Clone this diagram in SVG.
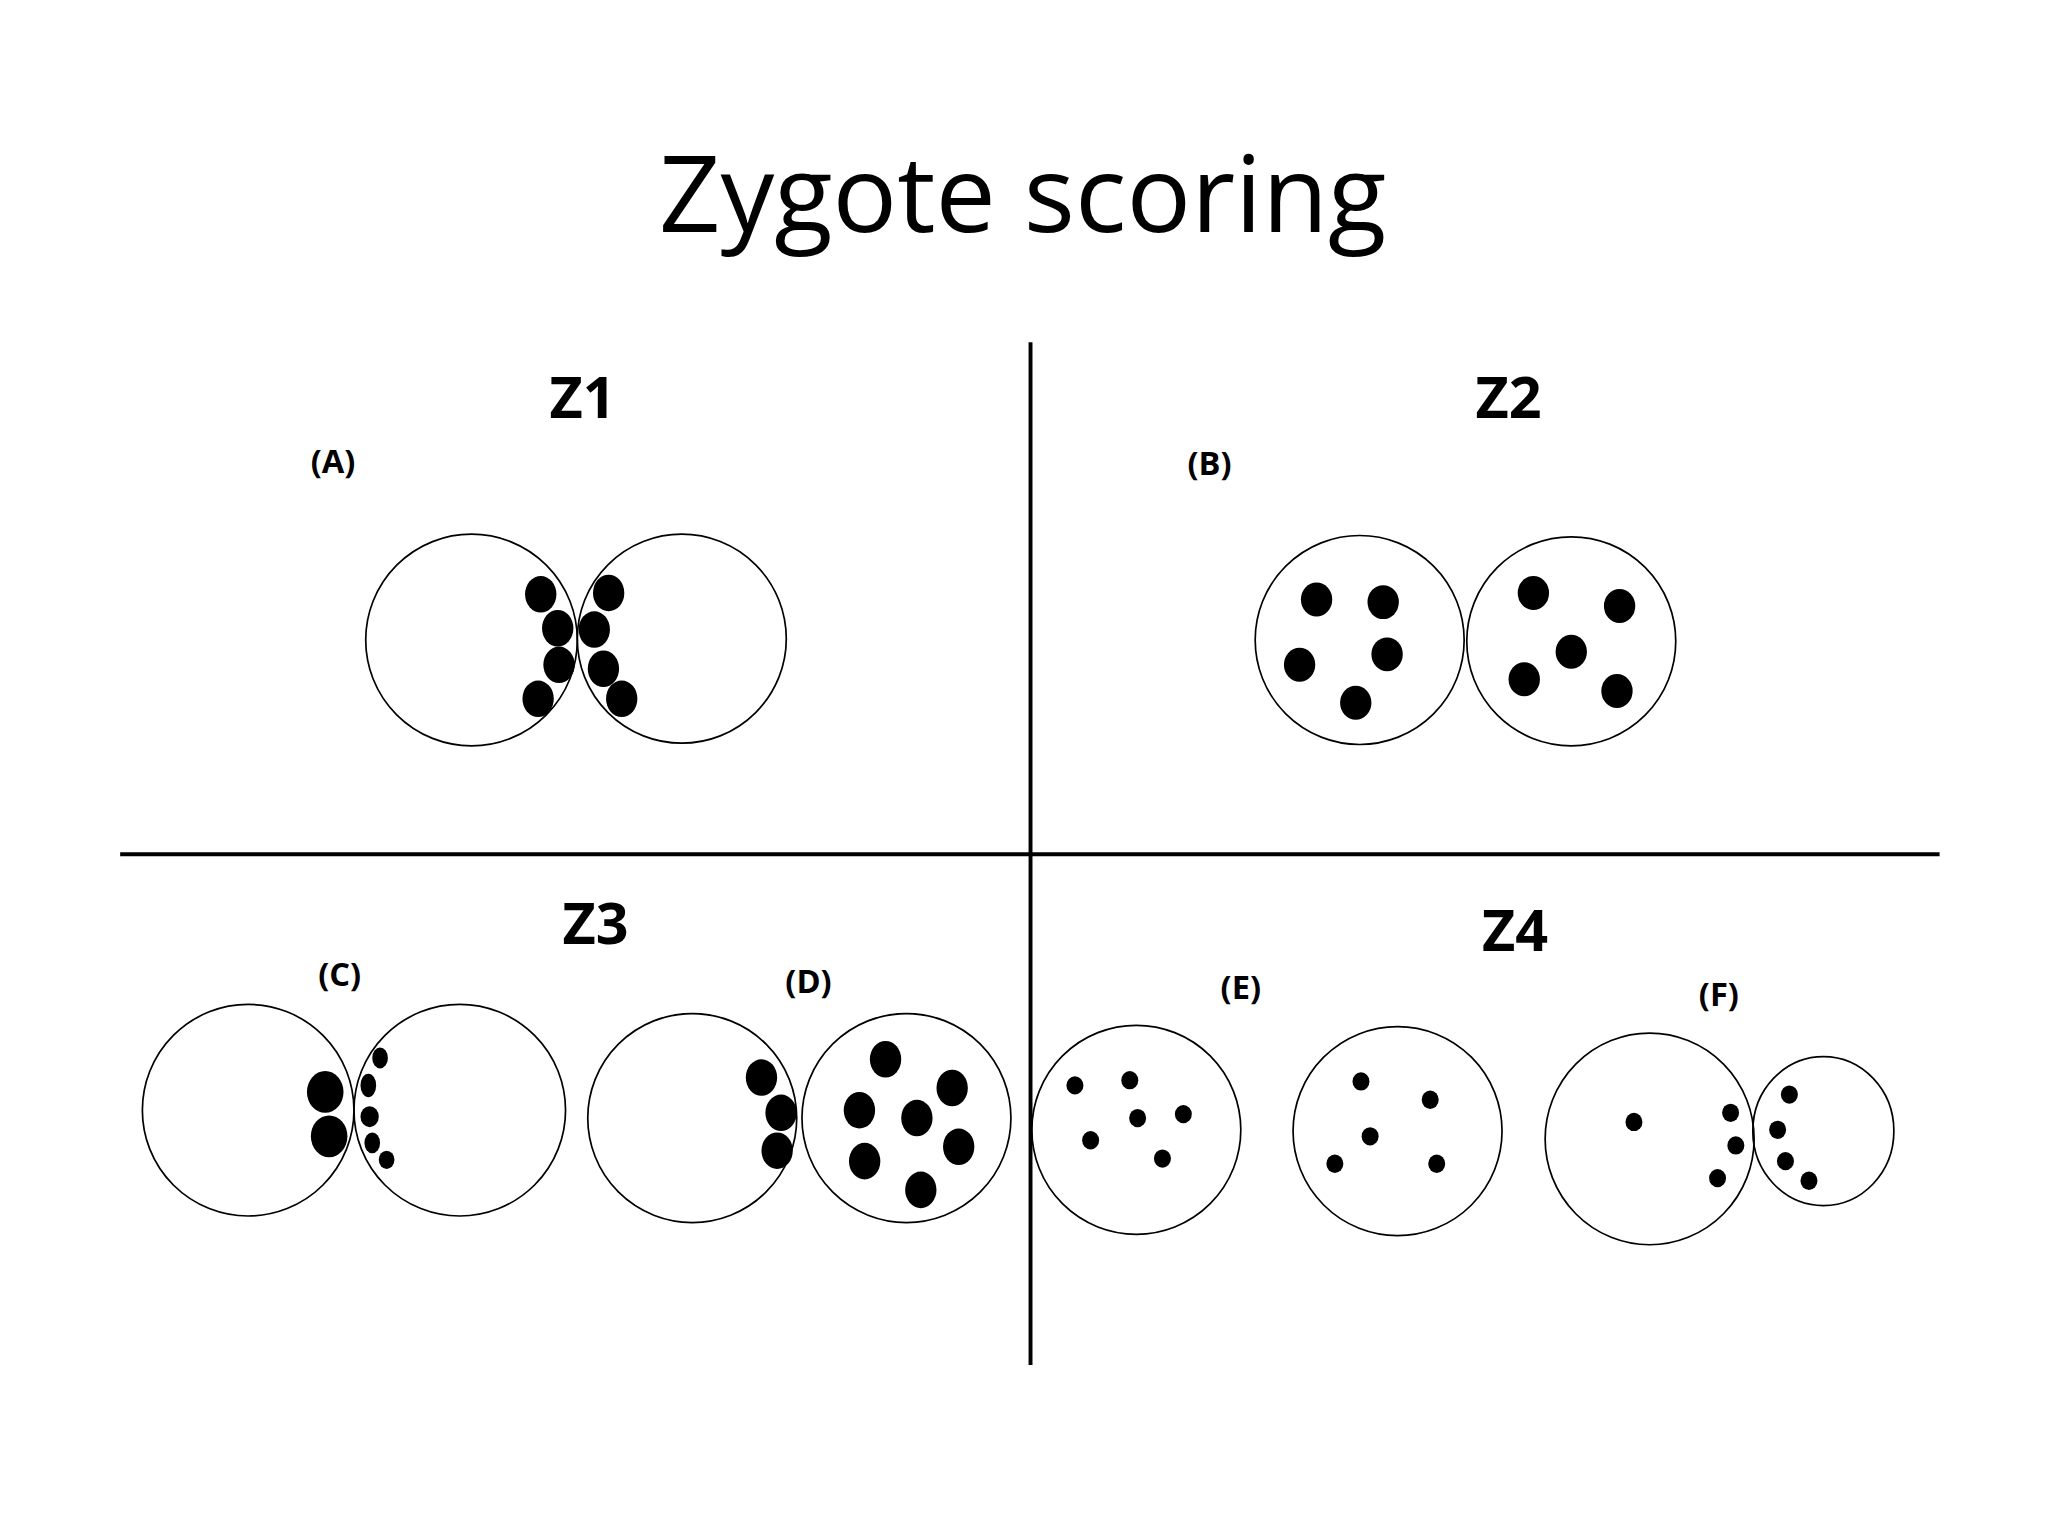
<svg xmlns="http://www.w3.org/2000/svg" width="2048" height="1536" viewBox="0 0 2048 1536">
<style>
.c{fill:none;stroke:#000;stroke-width:1.3}
.d{fill:#000}
.h{font-family:"Open Sans","Liberation Sans",sans-serif;font-weight:bold;text-anchor:middle;fill:#000}
.l{font-family:"Open Sans","Liberation Sans",sans-serif;font-weight:bold;text-anchor:middle;fill:#000;font-size:25px}
</style>
<rect width="2048" height="1536" fill="#fff"/>
<g transform="scale(1.30612)">
<text x="783" y="178" font-family="'Open Sans','Liberation Sans',sans-serif" font-size="82" text-anchor="middle" textLength="557" lengthAdjust="spacingAndGlyphs">Zygote scoring</text>
<g id="connectors" stroke="#000" stroke-width="3">
<line x1="789" y1="262" x2="789" y2="1045"/>
<line x1="92" y1="654" x2="1485" y2="654"/>
</g>
<g id="Z1"><text class="h" x="446" y="320" font-size="44">Z1</text><text class="l" x="255" y="362">(A)</text>
<circle class="c" cx="361" cy="490" r="81"/><circle class="c" cx="522" cy="489" r="80"/>
<g class="d"><ellipse cx="414" cy="455" rx="12" ry="14"/><ellipse cx="427" cy="481" rx="12" ry="14"/><ellipse cx="428" cy="509" rx="12" ry="14"/><ellipse cx="412" cy="535" rx="12" ry="14"/><ellipse cx="466" cy="454" rx="12" ry="14"/><ellipse cx="455" cy="482" rx="12" ry="14"/><ellipse cx="462" cy="512" rx="12" ry="14"/><ellipse cx="476" cy="535" rx="12" ry="14"/></g></g>
<g id="Z2"><text class="h" x="1155" y="320" font-size="44">Z2</text><text class="l" x="926" y="364">(B)</text>
<circle class="c" cx="1041" cy="490" r="80"/><circle class="c" cx="1203" cy="491" r="80"/>
<g class="d"><ellipse cx="1008" cy="459" rx="12" ry="13"/><ellipse cx="1059" cy="461" rx="12" ry="13"/><ellipse cx="995" cy="509" rx="12" ry="13"/><ellipse cx="1062" cy="501" rx="12" ry="13"/><ellipse cx="1038" cy="538" rx="12" ry="13"/><ellipse cx="1174" cy="454" rx="12" ry="13"/><ellipse cx="1240" cy="464" rx="12" ry="13"/><ellipse cx="1203" cy="499" rx="12" ry="13"/><ellipse cx="1167" cy="520" rx="12" ry="13"/><ellipse cx="1238" cy="529" rx="12" ry="13"/></g></g>
<g id="Z3"><text class="h" x="456" y="723" font-size="44">Z3</text><text class="l" x="260" y="755">(C)</text><text class="l" x="619" y="760">(D)</text>
<circle class="c" cx="190" cy="850" r="81"/><circle class="c" cx="352" cy="850" r="81"/>
<g class="d"><ellipse cx="249" cy="836" rx="14" ry="16"/><ellipse cx="252" cy="870" rx="14" ry="16"/><ellipse cx="291" cy="810" rx="6" ry="8"/><ellipse cx="282" cy="831" rx="6" ry="9"/><ellipse cx="283" cy="855" rx="7" ry="8"/><ellipse cx="285" cy="875" rx="6" ry="8"/><ellipse cx="296" cy="888" rx="6" ry="7"/></g>
<circle class="c" cx="530" cy="856" r="80"/><circle class="c" cx="694" cy="856" r="80"/>
<g class="d"><ellipse cx="583" cy="825" rx="12" ry="14"/><ellipse cx="598" cy="852" rx="12" ry="14"/><ellipse cx="595" cy="881" rx="12" ry="14"/><ellipse cx="678" cy="811" rx="12" ry="14"/><ellipse cx="729" cy="833" rx="12" ry="14"/><ellipse cx="658" cy="850" rx="12" ry="14"/><ellipse cx="702" cy="856" rx="12" ry="14"/><ellipse cx="734" cy="878" rx="12" ry="14"/><ellipse cx="662" cy="889" rx="12" ry="14"/><ellipse cx="705" cy="911" rx="12" ry="14"/></g></g>
<g id="Z4"><text class="h" x="1160" y="728" font-size="44">Z4</text><text class="l" x="950" y="765">(E)</text><text class="l" x="1316" y="770">(F)</text>
<circle class="c" cx="870" cy="865" r="80"/><circle class="c" cx="1070" cy="866" r="80"/>
<g class="d"><ellipse cx="823" cy="831" rx="6.5" ry="7"/><ellipse cx="865" cy="827" rx="6.5" ry="7"/><ellipse cx="871" cy="856" rx="6.5" ry="7"/><ellipse cx="906" cy="853" rx="6.5" ry="7"/><ellipse cx="835" cy="873" rx="6.5" ry="7"/><ellipse cx="890" cy="887" rx="6.5" ry="7"/><ellipse cx="1042" cy="828" rx="6.5" ry="7"/><ellipse cx="1095" cy="842" rx="6.5" ry="7"/><ellipse cx="1049" cy="870" rx="6.5" ry="7"/><ellipse cx="1022" cy="891" rx="6.5" ry="7"/><ellipse cx="1100" cy="891" rx="6.5" ry="7"/></g>
<ellipse class="c" cx="1263" cy="872" rx="80" ry="81"/><ellipse class="c" cx="1396" cy="866" rx="54" ry="57"/>
<g class="d"><ellipse cx="1251" cy="859" rx="6.5" ry="7"/><ellipse cx="1325" cy="852" rx="6.5" ry="7"/><ellipse cx="1329" cy="877" rx="6.5" ry="7"/><ellipse cx="1315" cy="902" rx="6.5" ry="7"/><ellipse cx="1370" cy="838" rx="6.5" ry="7"/><ellipse cx="1361" cy="865" rx="6.5" ry="7"/><ellipse cx="1367" cy="889" rx="6.5" ry="7"/><ellipse cx="1385" cy="904" rx="6.5" ry="7"/></g></g>
</g>
</svg>
